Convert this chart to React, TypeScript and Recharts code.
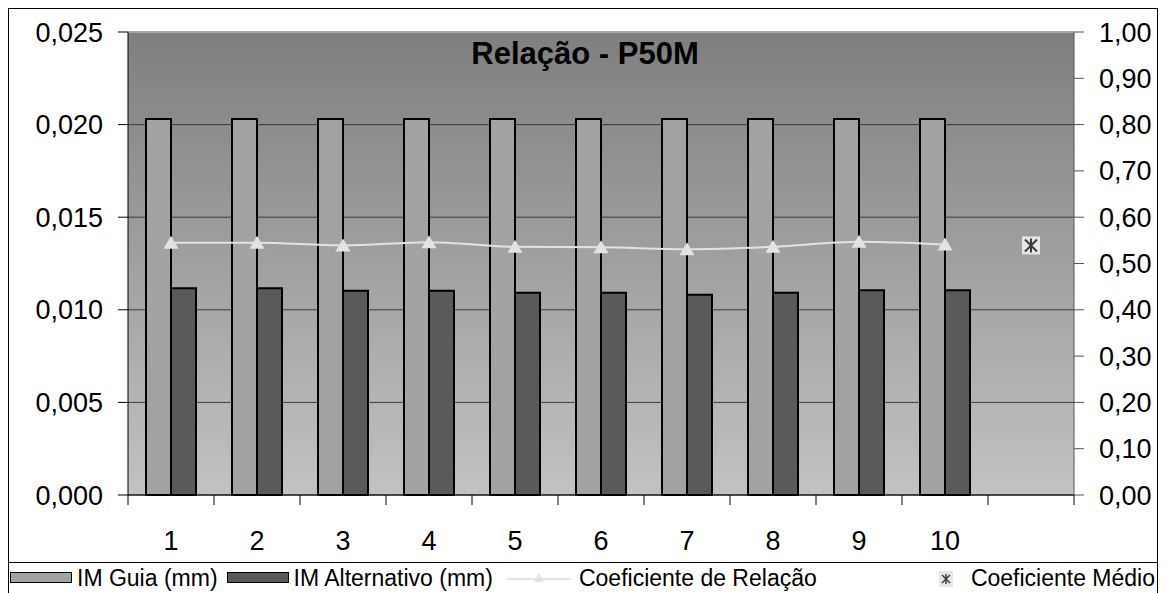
import React from "react";
import {
  Bar,
  CartesianGrid,
  ComposedChart,
  Line,
  ReferenceLine,
  XAxis,
  YAxis,
} from "recharts";

const categories = ["1", "2", "3", "4", "5", "6", "7", "8", "9", "10", ""];
const imGuia = [0.0203, 0.0203, 0.0203, 0.0203, 0.0203, 0.0203, 0.0203, 0.0203, 0.0203, 0.0203, null];
const imAlternativo = [0.01116, 0.01116, 0.01103, 0.01103, 0.01092, 0.01092, 0.01081, 0.01092, 0.01105, 0.01105, null];
const coefRelacao = [0.545, 0.545, 0.539, 0.546, 0.536, 0.535, 0.531, 0.536, 0.547, 0.541, null];
const coefMedio = [null, null, null, null, null, null, null, null, null, null, 0.539];

const leftTicks = [0, 0.005, 0.01, 0.015, 0.02, 0.025];
const rightTicks = [0, 0.1, 0.2, 0.3, 0.4, 0.5, 0.6, 0.7, 0.8, 0.9, 1];

const data = categories.map((c, i) => ({
  cat: c,
  guia: imGuia[i],
  alt: imAlternativo[i],
  coef: coefRelacao[i],
  medio: coefMedio[i],
}));

const FONT = '"Liberation Sans", Arial, sans-serif';
const CHART_W = 1148;
const CHART_H = 553;
const LEFT_W = 119;
const RIGHT_W = 83;
const BAND = (CHART_W - LEFT_W - RIGHT_W) / categories.length;

const fmt3 = (v: number) => v.toFixed(3).replace(".", ",");
const fmt2 = (v: number) => v.toFixed(2).replace(".", ",");

function XTick(props: any) {
  const { x, y, payload, index } = props;
  const axisY = y - 36;
  return (
    <g>
      <line x1={x - BAND / 2} x2={x - BAND / 2} y1={axisY} y2={axisY + 10} stroke="#000" />
      {index === categories.length - 1 && (
        <line x1={x + BAND / 2} x2={x + BAND / 2} y1={axisY} y2={axisY + 10} stroke="#000" />
      )}
      <text x={x} y={y} dy="0.71em" textAnchor="middle" fontSize={27} fontFamily={FONT} fill="#000">
        {payload.value}
      </text>
    </g>
  );
}

function TriangleDot(props: any) {
  const { cx, cy, value } = props;
  if (value == null || cx == null || cy == null) return null;
  return (
    <polygon
      key={`t-${cx}`}
      points={`${cx},${cy - 7} ${cx - 7.5},${cy + 6} ${cx + 7.5},${cy + 6}`}
      fill="#e3e3e3"
    />
  );
}

function AsteriskDot(props: any) {
  const { cx, cy, value } = props;
  if (value == null || cx == null || cy == null) return null;
  return (
    <g key={`a-${cx}`}>
      <rect x={cx - 9} y={cy - 9} width={18} height={18} fill="#e6e6e6" />
      <g stroke="#3a3a3a" strokeWidth={2}>
        <line x1={cx - 6} y1={cy - 6} x2={cx + 6} y2={cy + 6} />
        <line x1={cx + 6} y1={cy - 6} x2={cx - 6} y2={cy + 6} />
        <line x1={cx} y1={cy - 7} x2={cx} y2={cy + 7} />
      </g>
    </g>
  );
}

function Swatch({ fill }: { fill: string }) {
  return (
    <span
      style={{
        display: "inline-block",
        width: 60,
        height: 9,
        background: fill,
        border: "1.5px solid #000",
        marginRight: 5,
      }}
    />
  );
}

export default function App() {
  return (
    <div
      style={{
        position: "relative",
        width: 1150,
        height: 600,
        border: "1px solid #000",
        boxSizing: "border-box",
        background: "#fff",
        fontFamily: FONT,
      }}
    >
      <ComposedChart
        width={CHART_W}
        height={CHART_H}
        data={data}
        margin={{ top: 23, right: 0, bottom: 0, left: 0 }}
        barCategoryGap={18}
        barGap={0}
      >
        <defs>
          <linearGradient id="plotBg" x1="0" y1="0" x2="0" y2="1">
            <stop offset="0%" stopColor="#7f7f7f" />
            <stop offset="100%" stopColor="#c2c2c2" />
          </linearGradient>
        </defs>
        <CartesianGrid
          yAxisId="left"
          vertical={false}
          stroke="#3c3c3c"
          fill="url(#plotBg)"
          fillOpacity={1}
        />
        <XAxis
          dataKey="cat"
          height={67}
          axisLine={{ stroke: "#000" }}
          tickLine={false}
          tickSize={10}
          tickMargin={26}
          interval={0}
          tick={<XTick />}
        />
        <YAxis
          yAxisId="left"
          width={LEFT_W}
          domain={[0, 0.025]}
          ticks={leftTicks}
          tickFormatter={fmt3}
          axisLine={{ stroke: "#000" }}
          tickLine={{ stroke: "#000" }}
          tickSize={10}
          tickMargin={15}
          tick={{ fontSize: 27, fill: "#000", fontFamily: FONT }}
        />
        <YAxis
          yAxisId="right"
          orientation="right"
          width={RIGHT_W}
          domain={[0, 1]}
          ticks={rightTicks}
          tickFormatter={fmt2}
          axisLine={{ stroke: "#555" }}
          tickLine={{ stroke: "#555" }}
          tickSize={10}
          tickMargin={15}
          tick={{ fontSize: 27, fill: "#000", fontFamily: FONT }}
        />
        <ReferenceLine yAxisId="left" y={0.025} stroke="#a8a8a8" strokeWidth={2} />
        <Bar
          yAxisId="left"
          dataKey="guia"
          name="IM Guia (mm)"
          fill="#a3a3a3"
          stroke="#000"
          strokeWidth={2}
          isAnimationActive={false}
        />
        <Bar
          yAxisId="left"
          dataKey="alt"
          name="IM Alternativo (mm)"
          fill="#5a5a5a"
          stroke="#000"
          strokeWidth={2}
          isAnimationActive={false}
        />
        <Line
          yAxisId="right"
          type="monotone"
          dataKey="coef"
          name="Coeficiente de Relação"
          stroke="#e3e3e3"
          strokeWidth={2}
          dot={<TriangleDot />}
          activeDot={false}
          isAnimationActive={false}
        />
        <Line
          yAxisId="right"
          dataKey="medio"
          name="Coeficiente Médio"
          stroke="none"
          dot={<AsteriskDot />}
          activeDot={false}
          isAnimationActive={false}
        />
        <text
          x={576}
          y={55}
          textAnchor="middle"
          fontSize={31}
          fontWeight="bold"
          fontFamily={FONT}
          fill="#000"
        >
          Relação - P50M
        </text>
      </ComposedChart>
      <div
        style={{
          position: "absolute",
          left: 0,
          top: CHART_H,
          width: "100%",
          height: 29,
          borderTop: "1px solid #000",
          display: "flex",
          alignItems: "center",
          fontSize: 23,
          lineHeight: "26px",
          color: "#000",
          whiteSpace: "nowrap",
          boxSizing: "content-box",
        }}
      >
        <span style={{ display: "flex", alignItems: "center", marginLeft: 1 }}>
          <Swatch fill="#a3a3a3" />
          IM Guia (mm)
        </span>
        <span style={{ display: "flex", alignItems: "center", marginLeft: 9 }}>
          <Swatch fill="#5a5a5a" />
          IM Alternativo (mm)
        </span>
        <span style={{ display: "flex", alignItems: "center", marginLeft: 14 }}>
          <svg width={64} height={16} style={{ marginRight: 8 }}>
            <line x1={0} y1={9} x2={64} y2={9} stroke="#e3e3e3" strokeWidth={2} />
            <polygon points="32,3 27,12 37,12" fill="#e3e3e3" />
          </svg>
          Coeficiente de Relação
        </span>
        <span style={{ display: "flex", alignItems: "center", marginLeft: "auto", marginRight: 2 }}>
          <svg width={16} height={18} style={{ marginRight: 16 }}>
            <rect x={0} y={2} width={14} height={16} fill="#e6e6e6" />
            <g stroke="#3a3a3a" strokeWidth={1.5}>
              <line x1={3} y1={6} x2={11} y2={14} />
              <line x1={11} y1={6} x2={3} y2={14} />
              <line x1={7} y1={5} x2={7} y2={15} />
            </g>
          </svg>
          Coeficiente Médio
        </span>
      </div>
    </div>
  );
}
